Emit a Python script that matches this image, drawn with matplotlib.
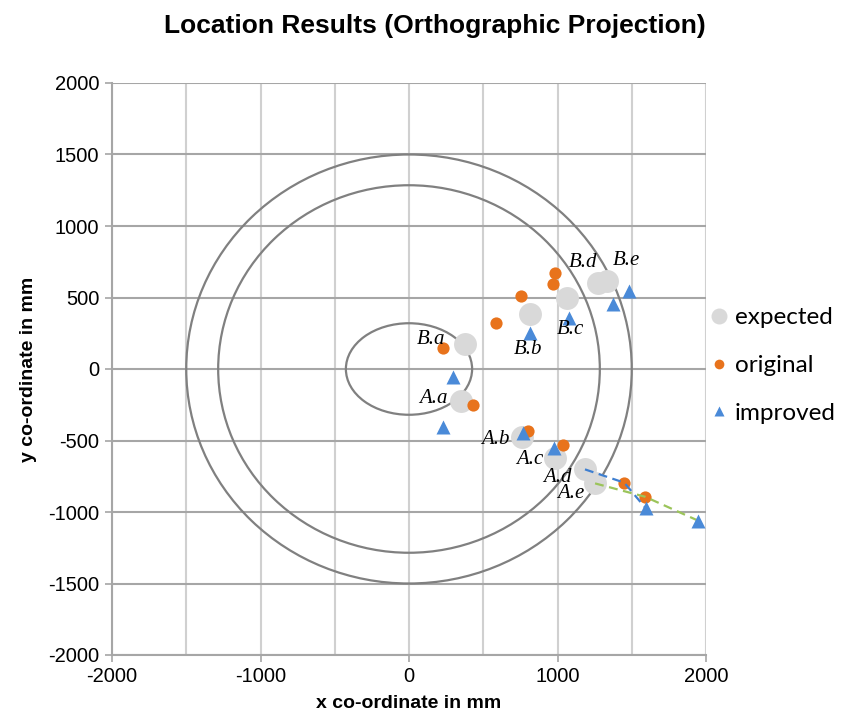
import matplotlib
matplotlib.use("Agg")
import matplotlib.pyplot as plt
from matplotlib.patches import Ellipse, Circle
import numpy as np

plt.rcParams['axes.unicode_minus'] = False

labels = ["A.a", "A.b", "A.c", "A.d", "A.e", "B.a", "B.b", "B.c", "B.d", "B.e"]
expected_x = [350, 759, 983, 1185, 1253, 377, 815, 1062, 1275, 1331]
expected_y = [-224, -473, -625, -702, -800, 175, 385, 494, 599, 617]
original_x = [429, 799, 1039, 1450, 1589, 227, 586, 752, 968, 983]
original_y = [-254, -431, -531, -795, -893, 149, 324, 510, 592, 673]
improved_x = [231, 770, 976, 1594, 1948, 298, 815, 1079, 1376, 1483]
improved_y = [-406, -450, -555, -974, -1061, -56, 252, 355, 452, 548]

# label offsets in pixels (dx, dy) relative to expected points
label_off = {"A.a": (-28, -3), "A.b": (-26, 3), "A.c": (-25, 1), "A.d": (-28, 8),
             "A.e": (-24, 10), "B.a": (-34, -4), "B.b": (-2, 36), "B.c": (4, 31),
             "B.d": (-15, -21), "B.e": (20, -20)}

outer_r = 1500
middle_r = 1285
inner_rx, inner_ry = 425, 320

fig = plt.figure(figsize=(8.43, 7.21), dpi=100)
ax = fig.add_axes([112/843, 1-655/721, (706-112)/843, (655-83)/721])

ax.set_xlim(-2000, 2000)
ax.set_ylim(-2000, 2000)
ax.set_xticks(np.arange(-2000, 2001, 1000))
ax.set_xticks(np.arange(-2000, 2001, 500), minor=True)
ax.set_yticks(np.arange(-2000, 2001, 500))
ax.grid(True, axis='y', which='major', color='#A6A6A6', lw=1.5, zorder=0)
ax.grid(True, axis='x', which='both', color='#D0D0D0', lw=1.5, zorder=0)
ax.tick_params(axis='x', which='minor', length=0)
ax.tick_params(axis='both', which='major', length=5, color='#A6A6A6', width=1.2,
               labelsize=14.5, pad=4)
for s in ['top', 'right']:
    ax.spines[s].set_visible(False)
for s in ['left', 'bottom']:
    ax.spines[s].set_color('#A6A6A6')
    ax.spines[s].set_linewidth(1.5)
for lab in ax.get_xticklabels() + ax.get_yticklabels():
    lab.set_fontfamily('Liberation Sans')

# circles
ax.add_patch(Circle((0, 0), outer_r, fill=False, ec='#808080', lw=1.6, zorder=2))
ax.add_patch(Circle((0, 0), middle_r, fill=False, ec='#808080', lw=1.6, zorder=2))
ax.add_patch(Ellipse((0, 0), 2*inner_rx, 2*inner_ry, fill=False, ec='#808080', lw=1.6, zorder=2))

# dashed connector lines for A.d and A.e
i = labels.index("A.d")
ax.plot([expected_x[i], original_x[i], improved_x[i]], [expected_y[i], original_y[i], improved_y[i]],
        ls=(0, (4, 2.5)), color='#3F7FD0', lw=1.6, zorder=5)
i = labels.index("A.e")
ax.plot([expected_x[i], original_x[i], improved_x[i]], [expected_y[i], original_y[i], improved_y[i]],
        ls=(0, (4, 2.5)), color='#9BC45A', lw=1.6, zorder=5)

ax.plot(expected_x, expected_y, 'o', ms=16.5, color='#D9D9D9', mec='none', zorder=3, label='expected')
ax.plot(original_x, original_y, 'o', ms=8.8, color='#E8731C', mec='none', zorder=4, label='original')
ax.plot(improved_x, improved_y, '^', ms=9.5, color='#4A8AD8', mec='none', zorder=6, label='improved')

for lab, x, y in zip(labels, expected_x, expected_y):
    dx, dy = label_off[lab]
    ax.annotate(lab, (x, y), xytext=(dx*0.72, -dy*0.72), textcoords='offset points',
                ha='center', va='center', fontsize=15, fontstyle='italic',
                family='Liberation Serif', zorder=7)

leg = ax.legend(loc='center left', bbox_to_anchor=(0.995, 0.506), frameon=False,
                prop={'family': 'Lato', 'size': 17.5}, handlelength=0.55,
                handletextpad=0.35, labelspacing=1.1, borderaxespad=0.0)
sizes = [11.5, 7, 7]
for h, s in zip(leg.legend_handles, sizes):
    h.set_markersize(s)

fig.text(0.516, 1-26/721, 'Location Results (Orthographic Projection)', ha='center', va='center',
         fontsize=19, fontweight='bold', family='Liberation Sans')
ax.set_xlabel('x co-ordinate in mm', fontsize=14, fontweight='bold', family='Liberation Sans', labelpad=6)
ax.set_ylabel('y co-ordinate in mm', fontsize=14, fontweight='bold', family='Liberation Sans', labelpad=8)

fig.savefig('out.png', dpi=100)
